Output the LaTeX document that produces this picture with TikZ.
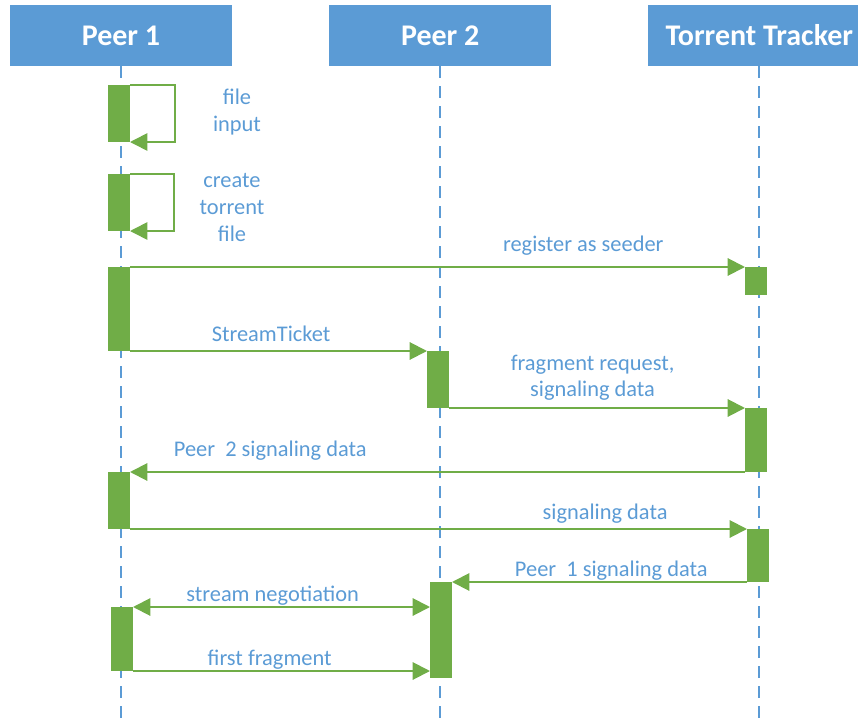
\documentclass[tikz,border=0pt]{standalone}
\usepackage{fontspec}
\setmainfont{Carlito}
\usetikzlibrary{positioning,arrows.meta}

\definecolor{hdblue}{HTML}{5B9BD5}
\definecolor{actgreen}{HTML}{70AD47}

\tikzset{
  head/.style = {fill=hdblue, text=white, font=\fontsize{22.5}{26}\selectfont\bfseries,
                 minimum width=166.5pt, minimum height=45.75pt, inner sep=0pt},
  life/.style = {draw=hdblue, line width=1.5pt, dash pattern=on 9pt off 6pt},
  act/.style  = {fill=actgreen, anchor=north west, minimum width=16.5pt,
                 inner sep=0pt, outer sep=0pt},
  msg/.style  = {draw=actgreen, line width=1.5pt, -{Triangle[length=13pt,width=13pt]}},
  lbl/.style  = {text=hdblue, font=\fontsize{16.8}{20}\selectfont, align=center,
                 anchor=base, inner sep=0pt}
}

\begin{document}
\begin{tikzpicture}[x=0.75pt, y=-0.75pt]
    \clip (0,0) rectangle (858,725);
    % lifeline heads
    \node (peer1) [head] at (121,35.5) {Peer 1};
    \node (peer2) [head, right=72.5pt of peer1] {Peer 2};
    \node (tracker) [head, right=72.5pt of peer2] {Torrent Tracker};
    \foreach \n in {peer1, peer2, tracker}
        \draw[life] (\n.south) -- (\n.south |- 0,725);

    % activations
    \node (p1a) [act, minimum height=42.75pt] at (108,85) {};
    \node (p1b) [act, minimum height=42.75pt] at (108,174) {};
    \node (p1c) [act, minimum height=63pt] at (108,267) {};
    \node (t1) [act, minimum height=21pt] at (745,267) {};
    \node (p2a) [act, minimum height=42.75pt] at (427,351) {};
    \node (t2) [act, minimum height=48pt] at (745,408) {};
    \node (p1d) [act, minimum height=42.75pt] at (108,472) {};
    \node (t3) [act, minimum height=39.75pt] at (747,529) {};
    \node (p2b) [act, minimum height=72pt] at (430,582) {};
    \node (p1e) [act, minimum height=48pt] at (111,607) {};

    % self calls
    \draw[msg, line width=1.2pt] (p1a.north east) -- ++(45,0) |- (p1a.south east);
    \draw[msg, line width=1.2pt] (p1b.north east) -- ++(44,0) |- (p1b.south east);
    \node (lfile) [lbl] at (237,131) {file\\input};
    \node (lcreate) [lbl] at (232,241) {create\\torrent\\file};

    % messages
    \draw[msg] (p1c.north east) -- node[lbl, pos=.737, yshift=12pt] {register as seeder} (t1.north west);
    \draw[msg] (p1c.south east) -- node[lbl, pos=.475, yshift=7pt] {StreamTicket} (p2a.north west);
    \draw[msg] (p2a.south east) -- node[lbl, pos=.485, yshift=8.5pt] {fragment request,\\signaling data} (t2.north west);
    \draw[msg] (t2.south west) -- node[lbl, pos=.772, yshift=12pt] {Peer\ \ 2 signaling data} (p1d.north east);
    \draw[msg] (p1d.south east) -- node[lbl, pos=.77, yshift=7pt] {signaling data} (t3.north west);
    \draw[msg] (t3.south west) -- node[lbl, pos=.46, yshift=4pt] {Peer\ \ 1 signaling data} (p2b.north east);
    \draw[msg, {Triangle[length=13pt,width=13pt]}-{Triangle[length=13pt,width=13pt]}]
        (p1e.north east) -- node[lbl, pos=.47, yshift=4pt] {stream negotiation} (p1e.north east -| p2b.west);
    \draw[msg] (p1e.south east) -- node[lbl, pos=.46, yshift=4.5pt] {first fragment} (p1e.south east -| p2b.west);
\end{tikzpicture}
\end{document}
